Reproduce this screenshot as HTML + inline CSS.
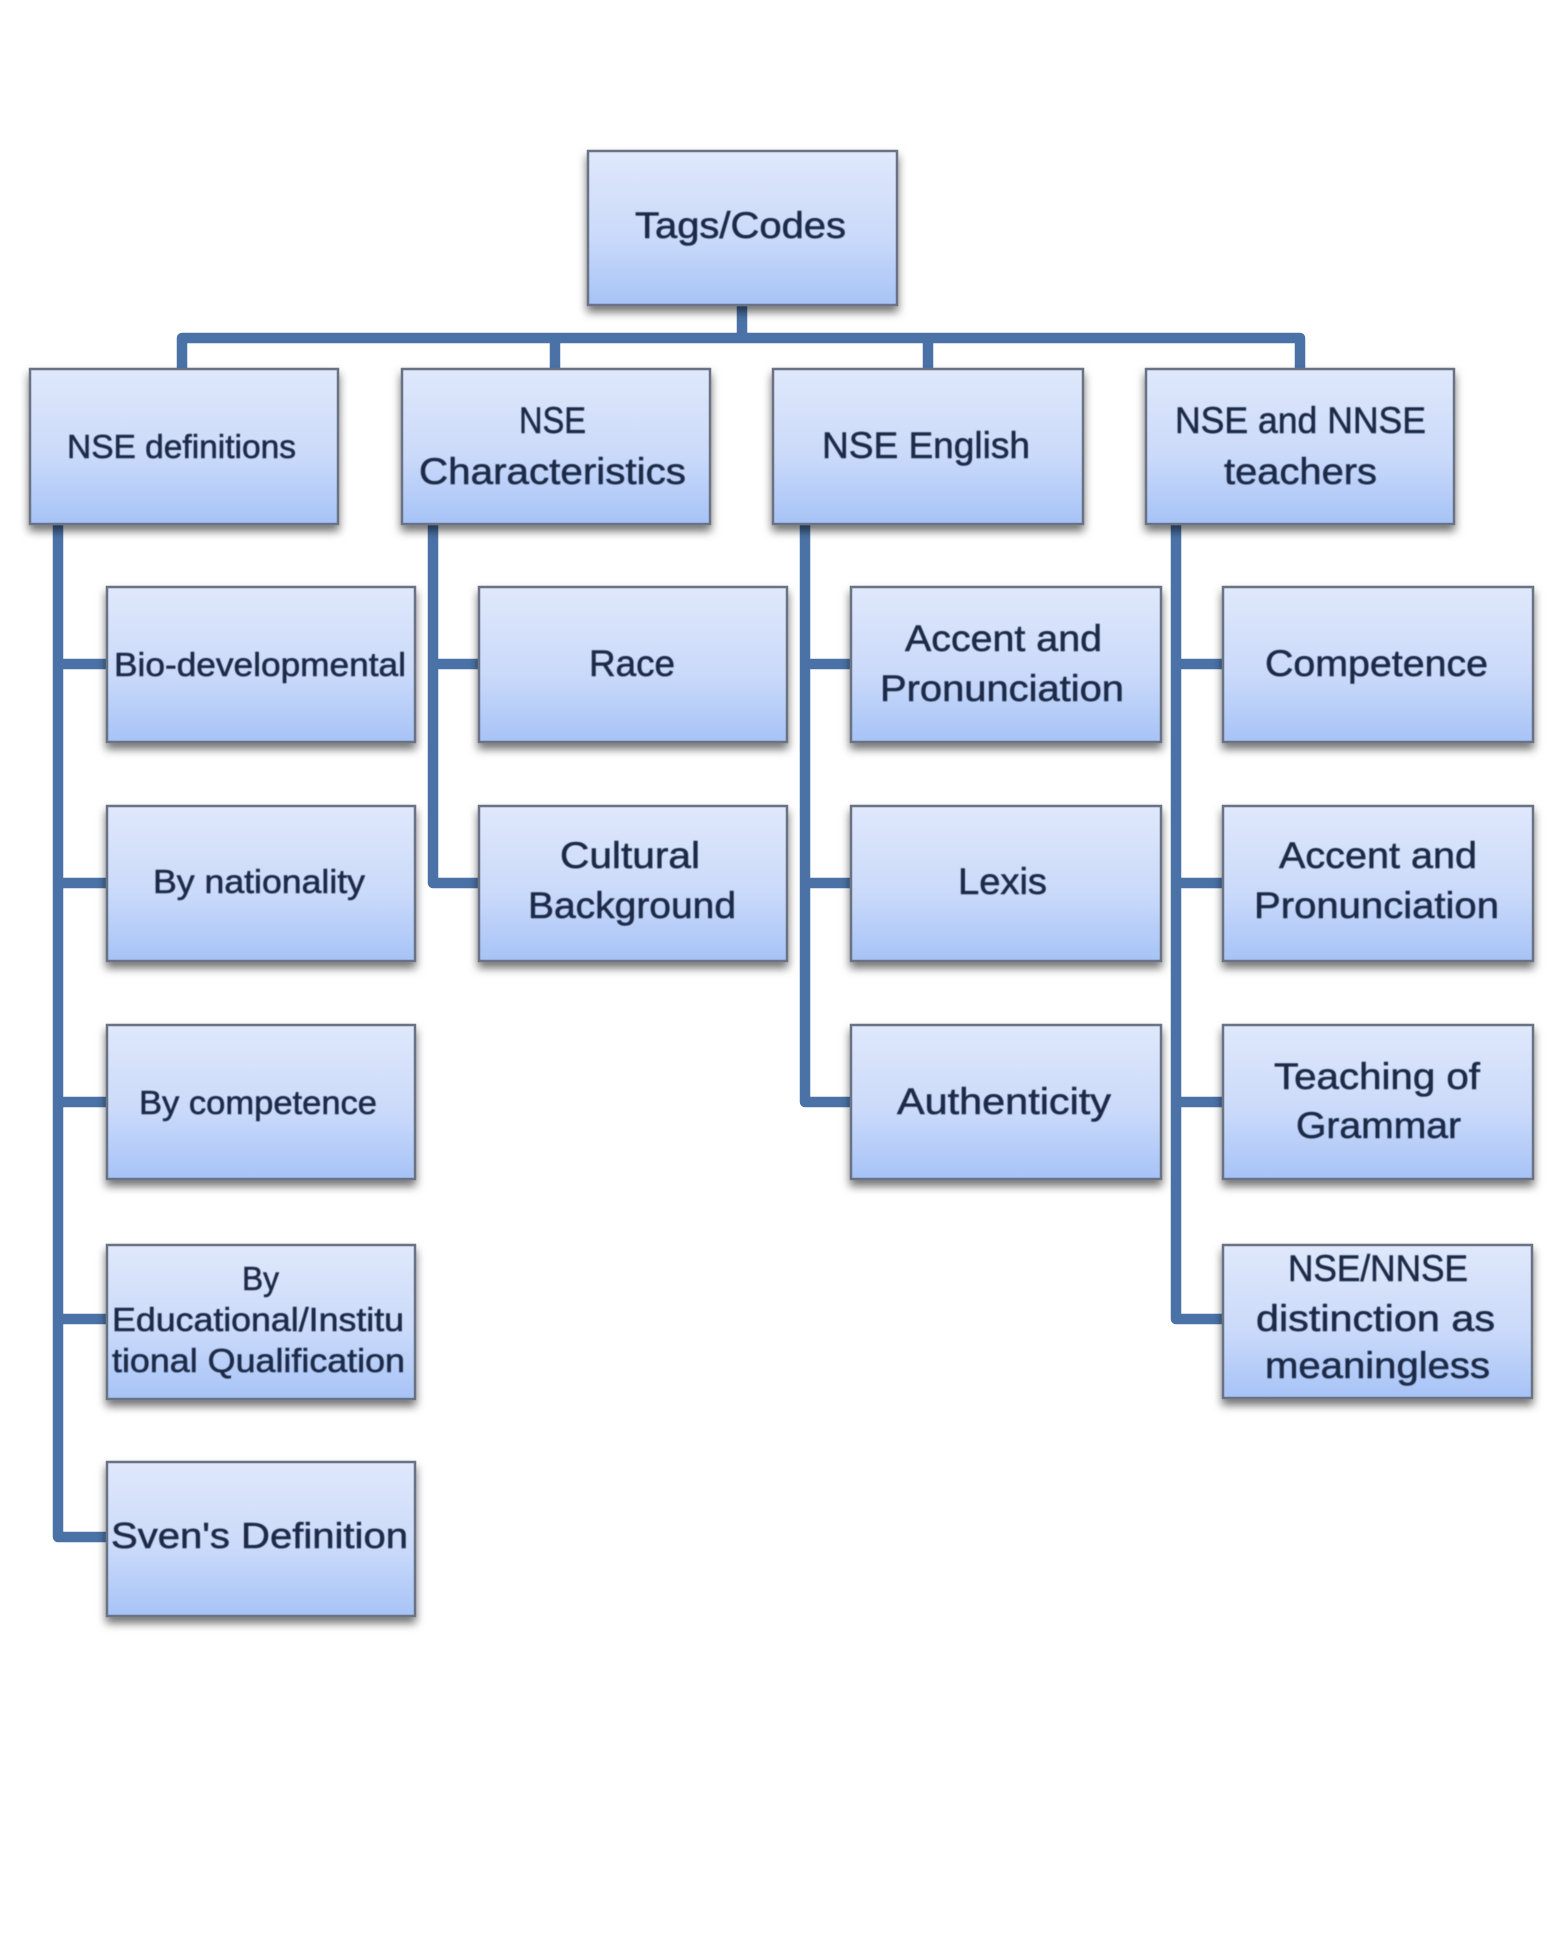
<!DOCTYPE html>
<html lang="en">
<head>
<meta charset="utf-8">
<title>Tags/Codes</title>
<style>
html,body{margin:0;padding:0;background:#fff;width:1551px;height:1948px;overflow:hidden}
svg{display:block}
text{font-family:"Liberation Sans",sans-serif;fill:#1b2a47;stroke:#1b2a47;stroke-width:0.55px;font-size:37px}
.s{font-size:33px}
.b{fill:url(#g);stroke:#697384;stroke-width:2.5;filter:url(#sh)}
.c{fill:none;stroke:#4a72a6;stroke-width:10.5;stroke-linejoin:round}
</style>
</head>
<body>
<svg width="1551" height="1948" viewBox="0 0 1551 1948" xmlns="http://www.w3.org/2000/svg">
<defs>
<linearGradient id="g" x1="0" y1="0" x2="0" y2="1">
<stop offset="0" stop-color="#dfe8fb"/>
<stop offset="0.55" stop-color="#cbdafa"/>
<stop offset="1" stop-color="#a6c3f6"/>
</linearGradient>
<filter id="sh" x="-10%" y="-10%" width="120%" height="125%">
<feDropShadow dx="0" dy="6" stdDeviation="4.5" flood-color="#000" flood-opacity="0.55"/>
</filter>
<filter id="t"><feGaussianBlur stdDeviation="0.5"/></filter>
</defs>

<!-- connectors -->
<path class="c" d="M742 306V338"/>
<path class="c" d="M182 369V338H1300V369"/>
<path class="c" d="M555 338V369M928 338V369"/>
<path class="c" d="M58 525V1537H106"/>
<path class="c" d="M58 664H106M58 883H106M58 1102H106M58 1319H106"/>
<path class="c" d="M433 525V883H479"/>
<path class="c" d="M433 664H479"/>
<path class="c" d="M805 525V1102H851"/>
<path class="c" d="M805 664H851M805 883H851"/>
<path class="c" d="M1176 525V1319H1223"/>
<path class="c" d="M1176 664H1223M1176 883H1223M1176 1102H1223"/>

<!-- boxes -->
<rect class="b" x="588" y="151" width="309" height="154"/>
<rect class="b" x="30" y="369" width="308" height="155"/>
<rect class="b" x="402" y="369" width="308" height="155"/>
<rect class="b" x="773" y="369" width="310" height="155"/>
<rect class="b" x="1146" y="369" width="308" height="155"/>

<rect class="b" x="107" y="587" width="308" height="155"/>
<rect class="b" x="107" y="806" width="308" height="155"/>
<rect class="b" x="107" y="1025" width="308" height="154"/>
<rect class="b" x="107" y="1245" width="308" height="154"/>
<rect class="b" x="107" y="1462" width="308" height="154"/>

<rect class="b" x="479" y="587" width="308" height="155"/>
<rect class="b" x="479" y="806" width="308" height="155"/>

<rect class="b" x="851" y="587" width="310" height="155"/>
<rect class="b" x="851" y="806" width="310" height="155"/>
<rect class="b" x="851" y="1025" width="310" height="154"/>

<rect class="b" x="1223" y="587" width="310" height="155"/>
<rect class="b" x="1223" y="806" width="310" height="155"/>
<rect class="b" x="1223" y="1025" width="310" height="154"/>
<rect class="b" x="1223" y="1245" width="309" height="153"/>

<!-- labels -->
<g filter="url(#t)">
<text x="635" y="238" textLength="211" lengthAdjust="spacingAndGlyphs">Tags/Codes</text>

<text class="s" x="67" y="458" textLength="229" lengthAdjust="spacingAndGlyphs">NSE definitions</text>
<text x="519" y="433" textLength="67" lengthAdjust="spacingAndGlyphs">NSE</text>
<text x="419" y="484" textLength="267" lengthAdjust="spacingAndGlyphs">Characteristics</text>
<text x="822" y="458" textLength="208" lengthAdjust="spacingAndGlyphs">NSE English</text>
<text x="1175" y="433" textLength="251" lengthAdjust="spacingAndGlyphs">NSE and NNSE</text>
<text x="1224" y="484" textLength="153" lengthAdjust="spacingAndGlyphs">teachers</text>

<text class="s" x="114" y="676" textLength="292" lengthAdjust="spacingAndGlyphs">Bio-developmental</text>
<text class="s" x="153" y="893" textLength="212" lengthAdjust="spacingAndGlyphs">By nationality</text>
<text class="s" x="139" y="1114" textLength="238" lengthAdjust="spacingAndGlyphs">By competence</text>
<text class="s" x="242" y="1290" textLength="37" lengthAdjust="spacingAndGlyphs">By</text>
<text class="s" x="112" y="1331" textLength="292" lengthAdjust="spacingAndGlyphs">Educational/Institu</text>
<text class="s" x="112" y="1372" textLength="293" lengthAdjust="spacingAndGlyphs">tional Qualification</text>
<text x="111" y="1548" style="font-size:36px" textLength="297" lengthAdjust="spacingAndGlyphs">Sven's Definition</text>

<text x="589" y="676" textLength="86" lengthAdjust="spacingAndGlyphs">Race</text>
<text x="560" y="868" textLength="140" lengthAdjust="spacingAndGlyphs">Cultural</text>
<text x="528" y="918" textLength="208" lengthAdjust="spacingAndGlyphs">Background</text>

<text x="905" y="651" textLength="197" lengthAdjust="spacingAndGlyphs">Accent and</text>
<text x="880" y="701" textLength="244" lengthAdjust="spacingAndGlyphs">Pronunciation</text>
<text x="958" y="894" textLength="89" lengthAdjust="spacingAndGlyphs">Lexis</text>
<text x="897" y="1114" textLength="214" lengthAdjust="spacingAndGlyphs">Authenticity</text>

<text x="1265" y="676" textLength="223" lengthAdjust="spacingAndGlyphs">Competence</text>
<text x="1279" y="868" textLength="198" lengthAdjust="spacingAndGlyphs">Accent and</text>
<text x="1254" y="918" textLength="245" lengthAdjust="spacingAndGlyphs">Pronunciation</text>
<text x="1274" y="1089" textLength="206" lengthAdjust="spacingAndGlyphs">Teaching of</text>
<text x="1296" y="1138" textLength="165" lengthAdjust="spacingAndGlyphs">Grammar</text>
<text x="1288" y="1281" textLength="180" lengthAdjust="spacingAndGlyphs">NSE/NNSE</text>
<text x="1256" y="1331" textLength="239" lengthAdjust="spacingAndGlyphs">distinction as</text>
<text x="1265" y="1378" textLength="225" lengthAdjust="spacingAndGlyphs">meaningless</text>
</g>
</svg>
</body>
</html>
